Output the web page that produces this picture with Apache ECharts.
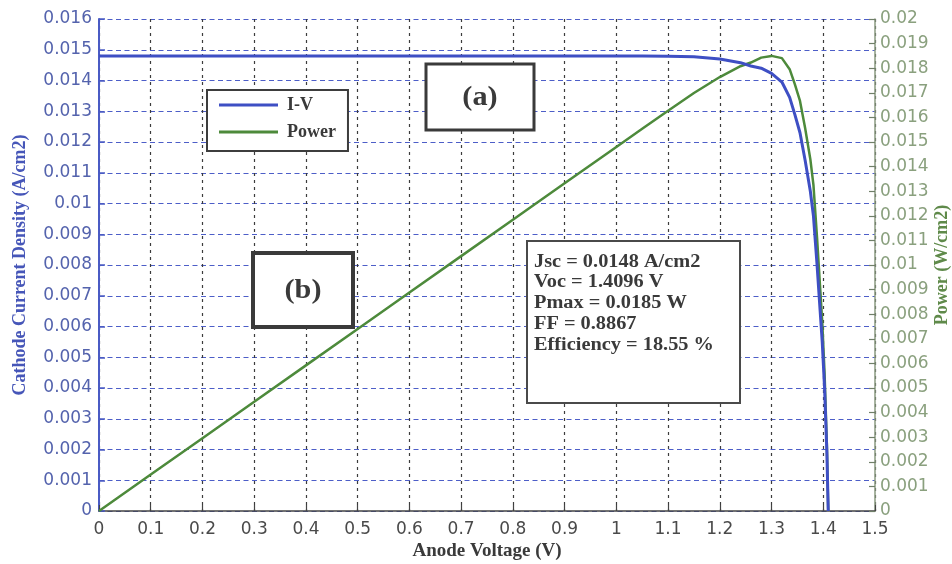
<!DOCTYPE html>
<html>
<head>
<meta charset="utf-8">
<script src="https://cdn.jsdelivr.net/npm/echarts@6/dist/echarts.min.js"></script>
<style>
  html, body { margin: 0; padding: 0; background: #ffffff; }
  #chart { width: 952px; height: 564px; }
</style>
</head>
<body>
<div id="chart"></div>
<script>
// Anode voltage samples (V)
const voltage = [0, 0.1, 0.2, 0.3, 0.4, 0.5, 0.6, 0.7, 0.8, 0.9, 1.0,
  1.05, 1.1, 1.15, 1.2, 1.24, 1.26, 1.28, 1.3, 1.32, 1.335, 1.345, 1.355,
  1.365, 1.375, 1.381, 1.388, 1.394, 1.398, 1.4025, 1.407, 1.4096];

// Cathode current density (A/cm2)
const currentDensity = [0.0148, 0.0148, 0.0148, 0.0148, 0.0148, 0.0148, 0.0148,
  0.0148, 0.0148, 0.0148, 0.0148,
  0.0148, 0.01479, 0.01477, 0.0147, 0.01458, 0.01447, 0.0144, 0.01423, 0.01395,
  0.01345, 0.0129, 0.0123, 0.0114, 0.0104, 0.0096, 0.0080, 0.0065, 0.0055,
  0.0040, 0.0019, 0];

// Power density (W/cm2)
const power = [0, 0.00148, 0.00296, 0.00444, 0.00592, 0.0074, 0.00888,
  0.01036, 0.01184, 0.01332, 0.0148,
  0.01554, 0.01627, 0.01699, 0.01764, 0.01808, 0.01823, 0.01843, 0.0185, 0.01841,
  0.01796, 0.01735, 0.01667, 0.01556, 0.0143, 0.01326, 0.0111, 0.00906, 0.00769,
  0.00561, 0.00267, 0];

const seriesNames = ['I-V', 'Power'];
const statsLines = [
  'Jsc = 0.0148 A/cm2',
  'Voc = 1.4096 V',
  'Pmax = 0.0185 W',
  'FF = 0.8867',
  'Efficiency = 18.55 %'
];
const panelTags = ['(a)', '(b)'];

const serif = '"Liberation Serif", "Times New Roman", serif';
const sans = '"DejaVu Sans", sans-serif';
const blue = '#3e4fc4';
const green = '#4d8a3b';
const ink = '#3a3a3a';

const ivPoints = voltage.map((v, i) => [v, currentDensity[i]]);
const powerPoints = voltage.map((v, i) => [v, power[i]]);

const chart = echarts.init(document.getElementById('chart'), null, { renderer: 'canvas' });

function boxedTag(text, x, y, w, h, lw, fontSize) {
  return [
    { type: 'rect', z: 100, shape: { x: x, y: y, width: w, height: h },
      style: { fill: '#ffffff', stroke: ink, lineWidth: lw } },
    { type: 'text', z: 101, x: x + w / 2, y: y + h / 2 + 1, scaleX: 1.12,
      style: { text: text, font: 'bold ' + fontSize + 'px ' + serif, fill: ink,
               textAlign: 'center', textVerticalAlign: 'middle' } }
  ];
}

const statsBox = [
  { type: 'rect', z: 100, shape: { x: 527, y: 241, width: 213, height: 162 },
    style: { fill: '#ffffff', stroke: '#4a4a4a', lineWidth: 2 } }
].concat(statsLines.map((t, i) => ({
  type: 'text', z: 101, x: 534, y: 262 + i * 20.8, scaleX: 1.13,
  style: { text: t, font: 'bold 18px ' + serif, fill: ink,
           textAlign: 'left', textVerticalAlign: 'middle' }
})));

const option = {
  backgroundColor: '#ffffff',
  animation: false,
  grid: { left: 99, right: 77, top: 19, bottom: 53, containLabel: false, outerBoundsMode: 'none' },
  legend: {
    data: seriesNames,
    orient: 'vertical',
    left: 207, top: 90,
    backgroundColor: '#ffffff',
    borderColor: '#3d3d3d', borderWidth: 2,
    padding: [5, 12, 9, 12],
    icon: 'rect',
    itemWidth: 59, itemHeight: 3, itemGap: 7,
    textStyle: { fontFamily: serif, fontWeight: 'bold', fontSize: 18, color: ink,
                 lineHeight: 20, padding: [0, 0, 0, 4] }
  },
  xAxis: {
    type: 'value', min: 0, max: 1.5, interval: 0.1,
    name: 'Anode Voltage (V)', nameLocation: 'middle', nameGap: 31, nameMoveOverlap: false,
    nameTextStyle: { fontFamily: serif, fontWeight: 'bold', fontSize: 19, color: ink },
    axisLine: { show: true, lineStyle: { color: '#444444', width: 1.5 } },
    axisTick: { show: true, inside: true, length: 6, lineStyle: { color: '#444444', width: 1.2 } },
    axisLabel: { fontFamily: sans, fontSize: 17, color: '#4a4a4a', margin: 10 },
    splitLine: { show: true, lineStyle: { color: '#3c3c3c', width: 1.2, type: [3, 4] } }
  },
  yAxis: [
    {
      type: 'value', position: 'left', min: 0, max: 0.016, interval: 0.001,
      name: 'Cathode Current Density (A/cm2)', nameLocation: 'middle', nameGap: 70,
      nameMoveOverlap: false,
      nameTextStyle: { fontFamily: serif, fontWeight: 'bold', fontSize: 18, color: '#4656b8' },
      axisLine: { show: true, lineStyle: { color: '#4a5bc4', width: 2 } },
      axisTick: { show: true, inside: true, length: 6, lineStyle: { color: '#4a5bc4', width: 1.5 } },
      axisLabel: { fontFamily: sans, fontSize: 17, color: '#5463ad', margin: 7 },
      splitLine: { show: true, lineStyle: { color: '#4d5ec8', width: 1.2, type: [5, 3.5] } }
    },
    {
      type: 'value', position: 'right', min: 0, max: 0.02, interval: 0.001,
      name: 'Power (W/cm2)', nameLocation: 'middle', nameGap: 58, nameRotate: 90,
      nameMoveOverlap: false,
      nameTextStyle: { fontFamily: serif, fontWeight: 'bold', fontSize: 18, color: '#5f8a4a' },
      axisLine: { show: true, lineStyle: { color: '#8a9a80', width: 1.5 } },
      axisTick: { show: true, inside: true, length: 6, lineStyle: { color: '#6f7f68', width: 1.2 } },
      axisLabel: { fontFamily: sans, fontSize: 17, color: '#8aa07e', margin: 5 },
      splitLine: { show: false }
    }
  ],
  series: [
    {
      name: 'Power', type: 'line', yAxisIndex: 1, data: powerPoints,
      symbol: 'none', smooth: false, z: 3,
      lineStyle: { color: green, width: 2.5 }, itemStyle: { color: green }
    },
    {
      name: 'I-V', type: 'line', yAxisIndex: 0, data: ivPoints,
      symbol: 'none', smooth: false, z: 4,
      lineStyle: { color: blue, width: 3 }, itemStyle: { color: blue }
    }
  ],
  graphic: [].concat(
    boxedTag(panelTags[0], 426, 64, 108, 66, 3, 27),
    boxedTag(panelTags[1], 253, 253, 100, 74, 4, 27),
    statsBox
  )
};

chart.setOption(option);
</script>
</body>
</html>
